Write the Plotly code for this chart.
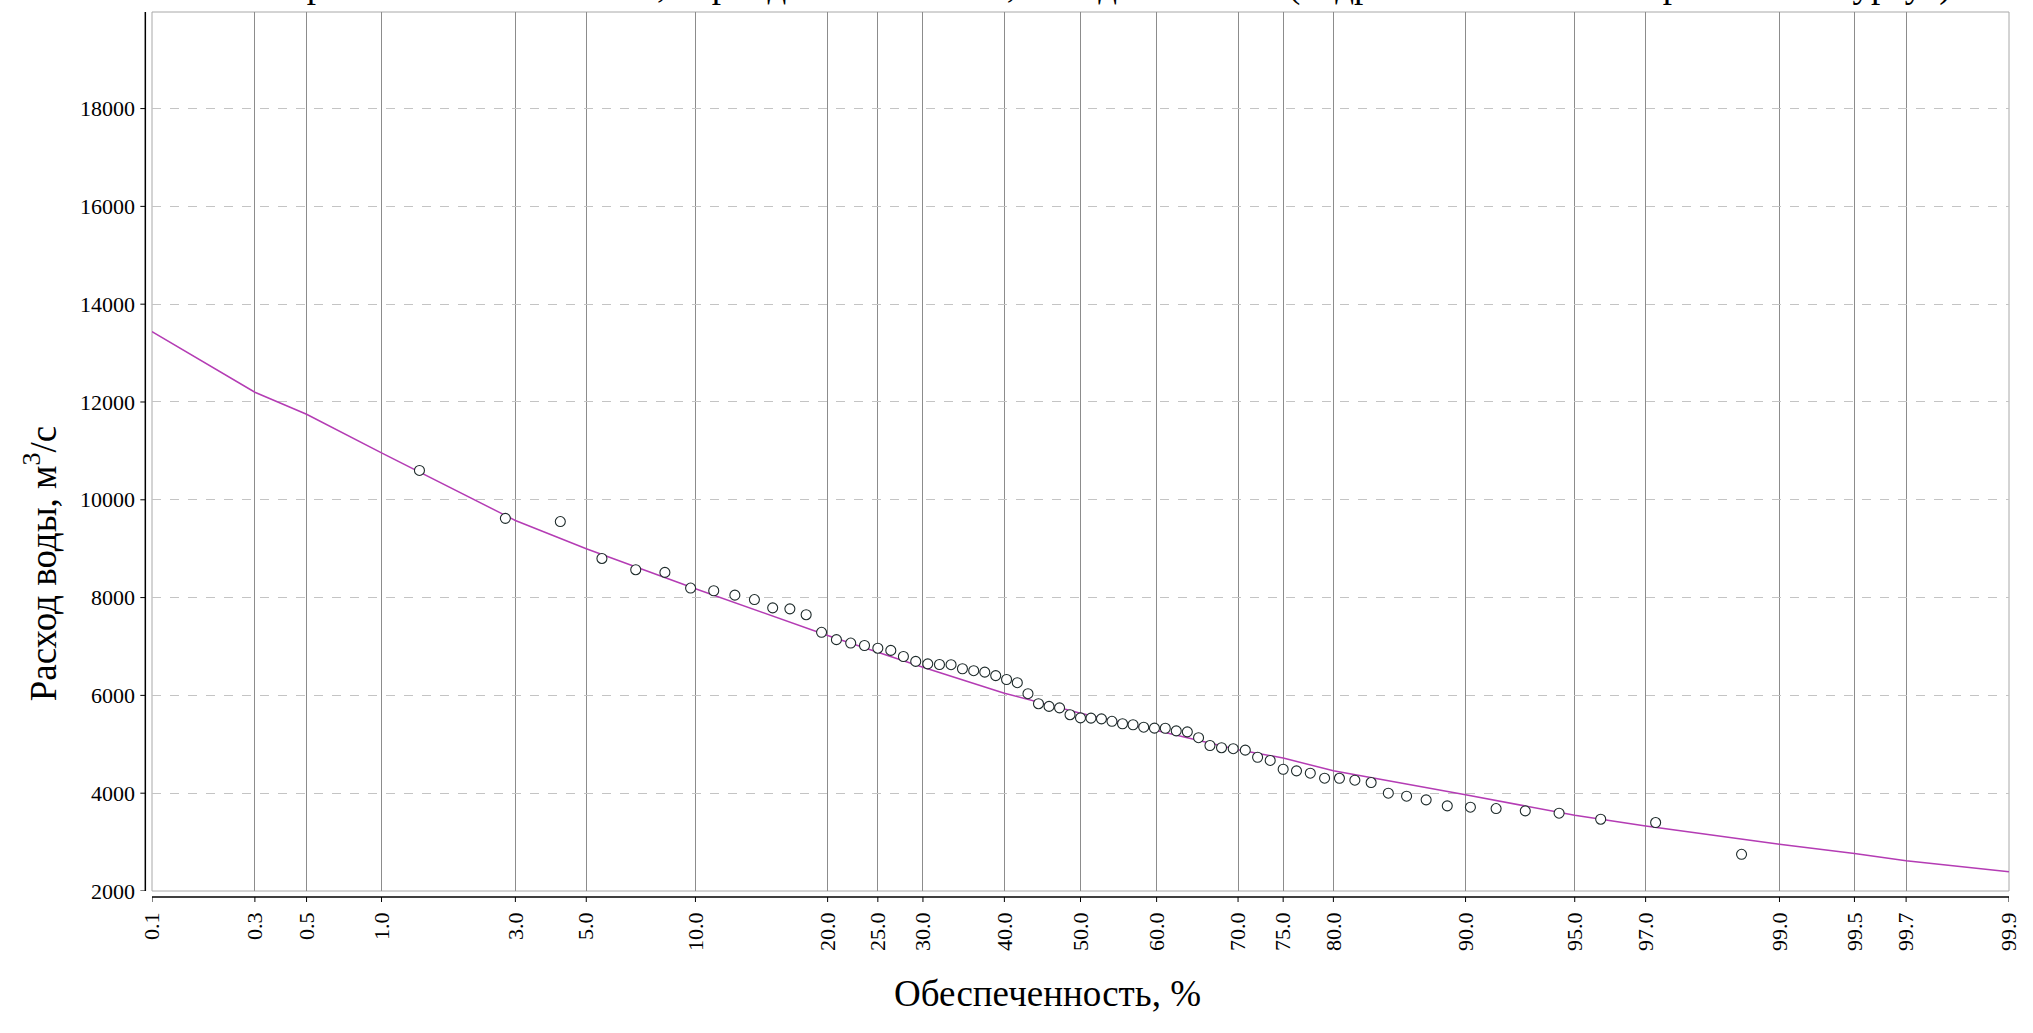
import plotly.graph_objects as go
from statistics import NormalDist

# ---------------- data ----------------
# empirical points: exceedance probability (%) and discharge (m3/s)
point_prob = [1.39, 2.78, 4.17, 5.56, 6.94, 8.33, 9.72, 11.11, 12.5, 13.89,
              15.28, 16.67, 18.06, 19.44, 20.83, 22.22, 23.61, 25.0, 26.39, 27.78,
              29.17, 30.56, 31.94, 33.33, 34.72, 36.11, 37.5, 38.89, 40.28, 41.67,
              43.06, 44.44, 45.83, 47.22, 48.61, 50.0, 51.39, 52.78, 54.17, 55.56,
              56.94, 58.33, 59.72, 61.11, 62.5, 63.89, 65.28, 66.67, 68.06, 69.44,
              70.83, 72.22, 73.61, 75.0, 76.39, 77.78, 79.17, 80.56, 81.94, 83.33,
              84.72, 86.11, 87.5, 88.89, 90.28, 91.67, 93.06, 94.44, 95.83, 97.22,
              98.61]
point_q = [10600, 9620, 9555, 8800, 8570, 8515, 8195, 8140, 8050, 7960,
           7790, 7770, 7650, 7290, 7140, 7070, 7020, 6965, 6920, 6795,
           6695, 6645, 6632, 6628, 6545, 6505, 6475, 6405, 6325, 6260,
           6035, 5830, 5775, 5745, 5605, 5540, 5535, 5520, 5470, 5420,
           5400, 5350, 5330, 5328, 5275, 5255, 5135, 4975, 4930, 4910,
           4880, 4735, 4670, 4490, 4457, 4409, 4307, 4305, 4266, 4218,
           4000, 3939, 3864, 3741, 3714, 3686, 3639, 3591, 3468, 3400,
           2750]

# fitted (analytical) curve, read at the grid probabilities
curve_prob = [0.1, 0.3, 0.5, 1.0, 3.0, 5.0, 10.0, 20.0, 25.0, 30.0, 40.0, 50.0,
              60.0, 70.0, 75.0, 80.0, 90.0, 95.0, 97.0, 99.0, 99.5, 99.7, 99.9]
curve_q = [13440, 12200, 11750, 10960, 9577, 9000, 8180, 7225, 6884, 6577, 6045, 5636,
           5282, 4887, 4720, 4457, 3966, 3550, 3330, 2958, 2769, 2618, 2393]

# axis ticks
x_tick_prob = [0.1, 0.3, 0.5, 1.0, 3.0, 5.0, 10.0, 20.0, 25.0, 30.0, 40.0, 50.0,
               60.0, 70.0, 75.0, 80.0, 90.0, 95.0, 97.0, 99.0, 99.5, 99.7, 99.9]
x_tick_text = ["0.1", "0.3", "0.5", "1.0", "3.0", "5.0", "10.0", "20.0", "25.0", "30.0",
               "40.0", "50.0", "60.0", "70.0", "75.0", "80.0", "90.0", "95.0", "97.0",
               "99.0", "99.5", "99.7", "99.9"]
y_ticks = [2000, 4000, 6000, 8000, 10000, 12000, 14000, 16000, 18000]
y_range = [2000, 19975]

title_text = ("Кривая обеспеченности, период 1936–2006 гг., метод моментов "
              "(гидрологический пост р. Обь – г. Сургут)")
x_title = "Обеспеченность, %"
y_title = "Расход воды, м<sup>3</sup>/с"

# ---------------- probability scale ----------------
nd = NormalDist()


def prob_axis(p):
    return nd.inv_cdf(p / 100.0)


x_lo, x_hi = prob_axis(0.1), prob_axis(99.9)

FONT = "Liberation Serif, Times New Roman, serif"
W, H = 2033, 1033
ML, MR, MT, MB = 152, 18, 12, 142
PW, PH = W - ML - MR, H - MT - MB

fig = go.Figure()

fig.add_trace(go.Scatter(
    x=[prob_axis(p) for p in curve_prob], y=curve_q, mode="lines",
    line=dict(color="#b43cb4", width=1.5), hoverinfo="skip", showlegend=False))

fig.add_trace(go.Scatter(
    x=[prob_axis(p) for p in point_prob], y=point_q, mode="markers",
    marker=dict(symbol="circle", size=10, color="white",
                line=dict(color="#1e2b2b", width=1.1)),
    showlegend=False))

shapes = []
# plot frame
shapes.append(dict(type="rect", xref="paper", yref="paper", x0=0, x1=1, y0=0, y1=1,
                   line=dict(color="#a8a8a8", width=1), layer="below"))
# offset axis lines
ax_off_y = 6.0 / PH
ax_off_x = 6.7 / PW
shapes.append(dict(type="line", xref="paper", yref="paper", x0=0, x1=1,
                   y0=-ax_off_y, y1=-ax_off_y, line=dict(color="black", width=1.5)))
shapes.append(dict(type="line", xref="paper", yref="paper", x0=-ax_off_x, x1=-ax_off_x,
                   y0=0, y1=1, line=dict(color="black", width=1.5)))
# tick marks
for p in x_tick_prob:
    shapes.append(dict(type="line", xref="x", yref="paper", x0=prob_axis(p), x1=prob_axis(p),
                       y0=-ax_off_y, y1=-ax_off_y - 5.0 / PH,
                       line=dict(color="black", width=1)))
for v in y_ticks:
    shapes.append(dict(type="line", xref="paper", yref="y", x0=-ax_off_x, x1=-ax_off_x - 5.0 / PW,
                       y0=v, y1=v, line=dict(color="black", width=1)))

annotations = [
    dict(text=title_text, xref="paper", yref="paper", x=(1120 - ML) / PW, y=1 + 4.0 / PH,
         xanchor="center", yanchor="bottom", showarrow=False,
         font=dict(family=FONT, size=37, color="black")),
    dict(text=x_title, xref="paper", yref="paper", x=(1050 - ML) / PW, y=(H - MB - 994) / PH,
         xanchor="center", yanchor="middle", showarrow=False,
         font=dict(family=FONT, size=37, color="black")),
    dict(text=y_title, xref="paper", yref="paper", x=(40 - ML) / PW, y=(H - MB - 564) / PH,
         xanchor="center", yanchor="middle", textangle=-90, showarrow=False,
         font=dict(family=FONT, size=37, color="black")),
]

fig.update_layout(
    width=W, height=H,
    margin=dict(l=ML, r=MR, t=MT, b=MB, pad=0),
    paper_bgcolor="white", plot_bgcolor="white",
    shapes=shapes, annotations=annotations,
    xaxis=dict(range=[x_lo, x_hi], tickmode="array",
               tickvals=[prob_axis(p) for p in x_tick_prob], ticktext=x_tick_text,
               tickangle=-90, tickfont=dict(family=FONT, size=22, color="black"),
               showgrid=True, gridcolor="#8c8c8c", gridwidth=1,
               zeroline=False, showline=False, ticks="", ticklabelstandoff=16),
    yaxis=dict(range=y_range, tickmode="array", tickvals=y_ticks,
               ticktext=[str(v) for v in y_ticks],
               tickfont=dict(family=FONT, size=22, color="black"),
               showgrid=True, gridcolor="#c4c4c4", gridwidth=1, griddash="dash",
               zeroline=False, showline=False, ticks="", ticklabelstandoff=16),
)

fig.write_html("out.html")
